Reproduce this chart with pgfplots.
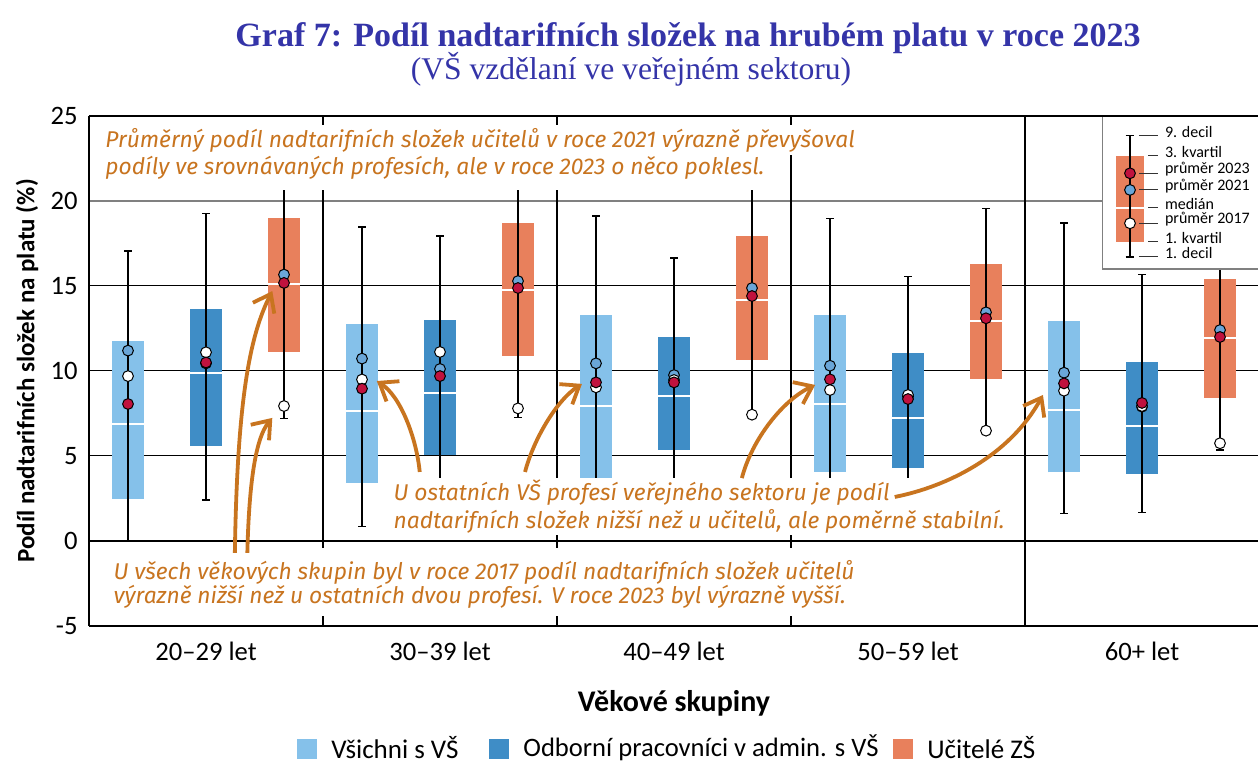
\documentclass[border=0pt]{standalone}
\usepackage{fontspec}
\setmainfont{Carlito}
\newfontfamily\titlefont{Liberation Serif}
\newfontfamily\annfont{Fira Sans}
\usepackage{pgfplots}
\pgfplotsset{compat=1.18}
\usepackage{pgfplotstable}
\usetikzlibrary{arrows.meta}

\definecolor{lb}{HTML}{85C1EA}
\definecolor{db}{HTML}{3F8DC6}
\definecolor{og}{HTML}{E8805C}
\definecolor{mblue}{HTML}{6AA6D8}
\definecolor{mred}{HTML}{C0123E}
\definecolor{ann}{HTML}{C8741F}
\definecolor{ttl}{HTML}{3434A8}

% x d1 q1 med q3 d9 m17 m21 m23
\pgfplotstableread{
x    d1   q1    med   q3    d9    m17   m21   m23
0.5  0.00 2.49  6.86  11.78 17.06 9.70  11.20 8.06
3.5  0.85 3.43  7.67  12.76 18.47 9.50  10.73 8.96
6.5  1.00 3.73  7.96  13.29 19.12 9.04  10.45 9.33
9.5  1.50 4.08  8.06  13.29 18.96 8.88  10.31 9.51
12.5 1.63 4.04  7.70  12.94 18.70 8.84  9.90  9.27
}\lbdata
\pgfplotstableread{
x    d1   q1    med   q3    d9    m17   m21   m23
1.5  2.41 5.61  9.86  13.65 19.25 11.10 10.45 10.50
4.5  2.50 5.06  8.69  13.00 17.94 11.12 10.12 9.70
7.5  2.50 5.37  8.55  12.00 16.65 9.47  9.76  9.33
10.5 2.00 4.31  7.22  11.06 15.55 8.59  8.50  8.35
13.5 1.69 3.96  6.76  10.53 15.69 7.94  7.90  8.12
}\dbdata
\pgfplotstableread{
x    d1   q1    med   q3    d9    m17   m21   m23
2.5  7.20 11.14 15.10 19.00 22.50 7.94  15.67 15.18
5.5  7.27 10.90 14.76 18.70 22.50 7.80  15.29 14.88
8.5  7.35 10.67 14.20 17.94 22.50 7.43  14.88 14.41
11.5 6.45 9.55  12.92 16.29 19.55 6.49  13.45 13.10
14.5 5.35 8.43  11.96 15.41 20.00 5.75  12.41 12.00
}\ogdata

\pgfplotsset{
  nomark/.style={only marks, mark=text, text mark={}, forget plot},
  boxpart/.style={nomark,
    error bars/.cd, y dir=plus, y explicit, error mark=none,
    error bar style={line width=16pt, color=#1}},
  medpart/.style={nomark,
    error bars/.cd, x dir=both, x fixed=0.207, error mark=none,
    error bar style={line width=1pt, color=white}},
  cappart/.style={nomark,
    error bars/.cd, x dir=both, x fixed=0.055, error mark=none,
    error bar style={line width=0.75pt, color=black}},
  whiskpart/.style={nomark,
    error bars/.cd, y dir=plus, y explicit, error mark=none,
    error bar style={line width=0.75pt, color=black}},
  meanpart/.style={only marks, mark=*, mark size=2.7pt, forget plot,
    mark options={fill=#1, draw=black, line width=0.5pt}},
}
\newcommand{\keyitem}[3]{%
  \draw[black!80, line width=0.5pt] (axis cs:#2,#1) -- (axis cs:13.71,#1);
  \node[anchor=west, inner sep=0pt, font=\fontsize{8}{9.5}\selectfont] at (axis cs:13.79,#1+0.22) {#3};}

\begin{document}
\begin{tikzpicture}
\useasboundingbox (-44.5pt,-69pt) rectangle (584.5pt,313pt);
\begin{axis}[
  width=585pt, height=255pt, scale only axis,
  xmin=0, xmax=15, ymin=-5, ymax=25,
  clip=false,
  axis line style={draw=none},
  major tick length=0pt,
  ytick={-5,0,5,10,15,20,25},
  yticklabels={-5,0,5,10,15,20,25},
  xtick={1.5,4.5,7.5,10.5,13.5},
  xticklabels={20–29 let,30–39 let,40–49 let,50–59 let,60+ let},
  tick label style={font=\fontsize{13.3}{15}\selectfont},
  yticklabel style={xshift=-2.2pt},
  xticklabel style={yshift=-4.5pt},
]
% grid
\draw[black, line width=0.5pt] (axis cs:0,5) -- (axis cs:15,5);
\draw[black, line width=0.5pt] (axis cs:0,10) -- (axis cs:15,10);
\draw[black, line width=0.5pt] (axis cs:0,15) -- (axis cs:15,15);
\draw[black!50, line width=0.8pt] (axis cs:0,20) -- (axis cs:15,20);
\draw[black, line width=1.2pt] (axis cs:3,-5) -- (axis cs:3,25);
\draw[black, line width=1.2pt] (axis cs:6,-5) -- (axis cs:6,25);
\draw[black, line width=1.2pt] (axis cs:9,-5) -- (axis cs:9,25);
\draw[black, line width=1.2pt] (axis cs:12,-5) -- (axis cs:12,25);
\draw[black, line width=1.2pt] (axis cs:0,0) -- (axis cs:15,0);

% boxes
\addplot[boxpart=lb] table[x=x, y=q1, y error plus expr=\thisrow{q3}-\thisrow{q1}] {\lbdata};
\addplot[boxpart=db] table[x=x, y=q1, y error plus expr=\thisrow{q3}-\thisrow{q1}] {\dbdata};
\addplot[boxpart=og] table[x=x, y=q1, y error plus expr=\thisrow{q3}-\thisrow{q1}] {\ogdata};
% medians
\addplot[medpart] table[x=x, y=med] {\lbdata};
\addplot[medpart] table[x=x, y=med] {\dbdata};
\addplot[medpart] table[x=x, y=med] {\ogdata};
% whiskers (1st to 9th decile) and caps
\addplot[whiskpart] table[x=x, y=d1, y error plus expr=\thisrow{d9}-\thisrow{d1}] {\lbdata};
\addplot[whiskpart] table[x=x, y=d1, y error plus expr=\thisrow{d9}-\thisrow{d1}] {\dbdata};
\addplot[whiskpart] table[x=x, y=d1, y error plus expr=\thisrow{d9}-\thisrow{d1}] {\ogdata};
\addplot[cappart] table[x=x, y=d1] {\lbdata};
\addplot[cappart] table[x=x, y=d9] {\lbdata};
\addplot[cappart] table[x=x, y=d1] {\dbdata};
\addplot[cappart] table[x=x, y=d9] {\dbdata};
\addplot[cappart] table[x=x, y=d1] {\ogdata};
\addplot[cappart] table[x=x, y=d9] {\ogdata};
% means
\addplot[meanpart=mblue] table[x=x, y=m21] {\lbdata};
\addplot[meanpart=white] table[x=x, y=m17] {\lbdata};
\addplot[meanpart=mred] table[x=x, y=m23] {\lbdata};
\addplot[meanpart=mblue] table[x=x, y=m21] {\dbdata};
\addplot[meanpart=white] table[x=x, y=m17] {\dbdata};
\addplot[meanpart=mred] table[x=x, y=m23] {\dbdata};
\addplot[meanpart=mblue] table[x=x, y=m21] {\ogdata};
\addplot[meanpart=white] table[x=x, y=m17] {\ogdata};
\addplot[meanpart=mred] table[x=x, y=m23] {\ogdata};

% annotation backgrounds
\fill[white] (axis cs:0.04,24.47) rectangle (axis cs:10.05,22.71);
\fill[white] (axis cs:0.04,22.71) rectangle (axis cs:8.73,20.65);
\fill[white] (axis cs:3.79,3.71) rectangle (axis cs:11.85,0.35);
\fill[white] (axis cs:0.04,-0.41) rectangle (axis cs:10.14,-4.41);

% key box
\draw[black!50, line width=0.6pt, fill=white] (axis cs:12.99,16.0) rectangle (axis cs:15.2,25);
\fill[og] (axis cs:13.17,17.61) rectangle (axis cs:13.53,22.65);
\draw[white, line width=1pt] (axis cs:13.17,19.61) -- (axis cs:13.53,19.61);
\draw[black, line width=0.75pt] (axis cs:13.346,16.72) -- (axis cs:13.346,23.84);
\draw[black, line width=0.75pt] (axis cs:13.29,16.72) -- (axis cs:13.40,16.72);
\draw[black, line width=0.75pt] (axis cs:13.29,23.84) -- (axis cs:13.40,23.84);
\addplot[meanpart=mred] coordinates {(13.346,21.63)};
\addplot[meanpart=mblue] coordinates {(13.346,20.65)};
\addplot[meanpart=white] coordinates {(13.346,18.69)};
\keyitem{23.84}{13.46}{9. decil}
\keyitem{22.65}{13.58}{3. kvartil}
\keyitem{21.63}{13.46}{průměr 2023}
\keyitem{20.65}{13.46}{průměr 2021}
\keyitem{19.61}{13.58}{medián}
\keyitem{18.69}{13.46}{průměr 2017}
\keyitem{17.61}{13.58}{1. kvartil}
\keyitem{16.72}{13.46}{1. decil}

% frame
\draw[black, line width=1.2pt] (axis cs:0,25) -- (axis cs:15,25);
\draw[black, line width=1.2pt] (axis cs:0,-5) -- (axis cs:15,-5);
\draw[black, line width=1pt] (axis cs:0,-5) -- (axis cs:0,25);

% annotation texts
\begin{scope}[every node/.style={anchor=west, inner sep=0pt, text=ann, font=\annfont\itshape\fontsize{11.4}{13}\selectfont}]
\node at (axis cs:0.205,23.59) {Průměrný podíl nadtarifních složek učitelů v roce 2021 výrazně převyšoval};
\node at (axis cs:0.205,21.94) {podíly ve srovnávaných profesích, ale v roce 2023 o něco poklesl.};
\node at (axis cs:3.90,2.82) {U ostatních VŠ profesí veřejného sektoru je podíl};
\node at (axis cs:3.90,1.18) {nadtarifních složek nižší než u učitelů, ale poměrně stabilní.};
\node at (axis cs:0.31,-1.82) {U všech věkových skupin byl v roce 2017 podíl nadtarifních složek učitelů};
\node at (axis cs:0.31,-3.29) {výrazně nižší než u ostatních dvou profesí. V roce 2023 byl výrazně vyšší.};
\end{scope}

% arrows
\begin{scope}[ann, line width=1.9pt, -{Straight Barb[length=8pt,width=12pt,line width=1.9pt]}]
\draw (axis cs:1.87,-0.7) .. controls (axis cs:1.9,8) and (axis cs:2.05,12) .. (axis cs:2.35,14.7);
\draw (axis cs:2.03,-0.7) .. controls (axis cs:2.05,3) and (axis cs:2.12,6) .. (axis cs:2.35,7.24);
\draw (axis cs:4.24,4.06) .. controls (axis cs:4.2,6) and (axis cs:4.0,8.5) .. (axis cs:3.69,9.41);
\draw (axis cs:5.59,4.06) .. controls (axis cs:5.7,6) and (axis cs:6.0,8.3) .. (axis cs:6.32,9.24);
\draw (axis cs:8.37,3.7) .. controls (axis cs:8.5,6) and (axis cs:8.9,8.3) .. (axis cs:9.31,9.18);
\draw (axis cs:10.33,2.59) .. controls (axis cs:11.0,3.2) and (axis cs:11.8,5) .. (axis cs:12.23,8.59);
\end{scope}
\end{axis}

% titles
\node[text=ttl, font=\titlefont\bfseries\fontsize{17}{20}\selectfont] at (299.5pt,294pt) {Graf 7: Podíl nadtarifních složek na hrubém platu v roce 2023};
\node[text=ttl, font=\titlefont\fontsize{15.8}{18}\selectfont] at (271pt,278.5pt) {(VŠ vzdělaní ve veřejném sektoru)};
% axis labels
\node[font=\bfseries\fontsize{15}{18}\selectfont] at (292.5pt,-38.5pt) {Věkové skupiny};
\node[rotate=90, font=\bfseries\fontsize{12.5}{15}\selectfont] at (-31pt,127.5pt) {Podíl nadtarifních složek na platu (\%)};
% legend
\fill[lb] (104pt,-66.5pt) rectangle (114pt,-56.5pt);
\node[anchor=west, inner sep=0pt, font=\fontsize{13.5}{16}\selectfont] at (121pt,-61pt) {Všichni s VŠ};
\fill[db] (200pt,-66.5pt) rectangle (210pt,-56.5pt);
\node[anchor=west, inner sep=0pt, font=\fontsize{13.3}{16}\selectfont] at (217pt,-61pt) {Odborní pracovníci v admin. s VŠ};
\fill[og] (402pt,-66.5pt) rectangle (412pt,-56.5pt);
\node[anchor=west, inner sep=0pt, font=\fontsize{13.5}{16}\selectfont] at (419pt,-61pt) {Učitelé ZŠ};
\end{tikzpicture}
\end{document}
